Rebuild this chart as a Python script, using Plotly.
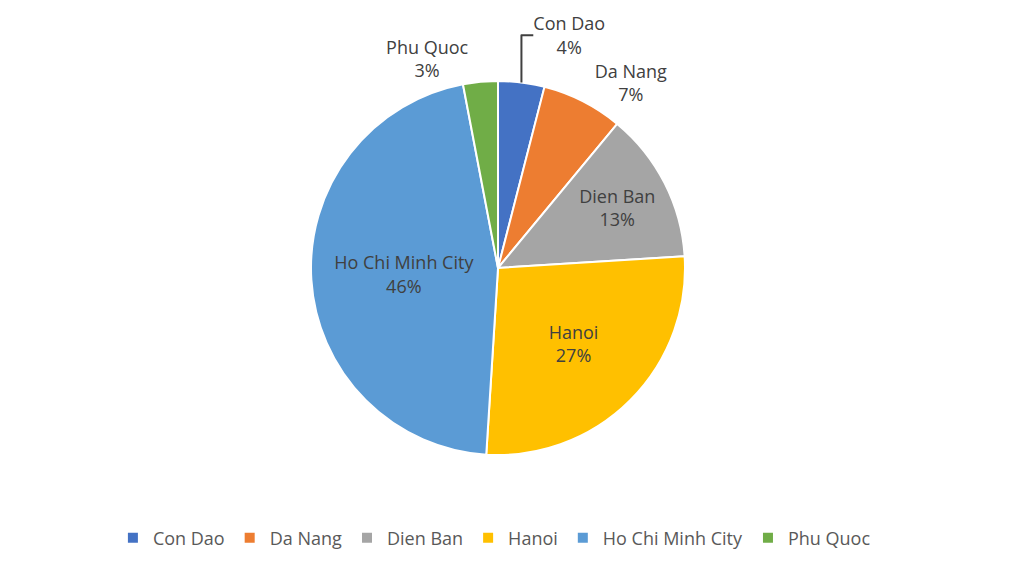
import plotly.graph_objects as go

labels = ["Con Dao", "Da Nang", "Dien Ban", "Hanoi", "Ho Chi Minh City", "Phu Quoc"]
values = [4, 7, 13, 27, 46, 3]
colors = ["#4472C4", "#ED7D31", "#A5A5A5", "#FFC000", "#5B9BD5", "#70AD47"]
text_positions = ["outside", "outside", "inside", "inside", "inside", "outside"]

W, H = 1024, 569
cx, cy, r = 490, 260, 187
FONT = "Open Sans, Liberation Sans, sans-serif"

fig = go.Figure(go.Pie(
    labels=labels,
    values=values,
    sort=False,
    direction="clockwise",
    rotation=0,
    marker=dict(colors=colors, line=dict(color="white", width=2)),
    texttemplate="%{label}<br>%{percent:.0%}",
    textposition=text_positions,
    insidetextorientation="horizontal",
    textfont=dict(family=FONT, size=18, color="#404040"),
    outsidetextfont=dict(family=FONT, size=18, color="#404040"),
    domain=dict(x=[(cx - r) / W, (cx + r) / W], y=[1 - (cy + r) / H, 1 - (cy - r) / H]),
    automargin=False,
    hoverinfo="label+percent",
))

fig.update_layout(
    width=W, height=H,
    margin=dict(l=0, r=0, t=0, b=0),
    paper_bgcolor="white",
    plot_bgcolor="white",
    showlegend=True,
    legend=dict(
        orientation="h",
        x=0.475, xanchor="center",
        y=1 - 530 / H, yanchor="middle",
        font=dict(family=FONT, size=18, color="#595959"),
        itemwidth=30,
        traceorder="normal",
    ),
)

fig.write_html("out.html")
